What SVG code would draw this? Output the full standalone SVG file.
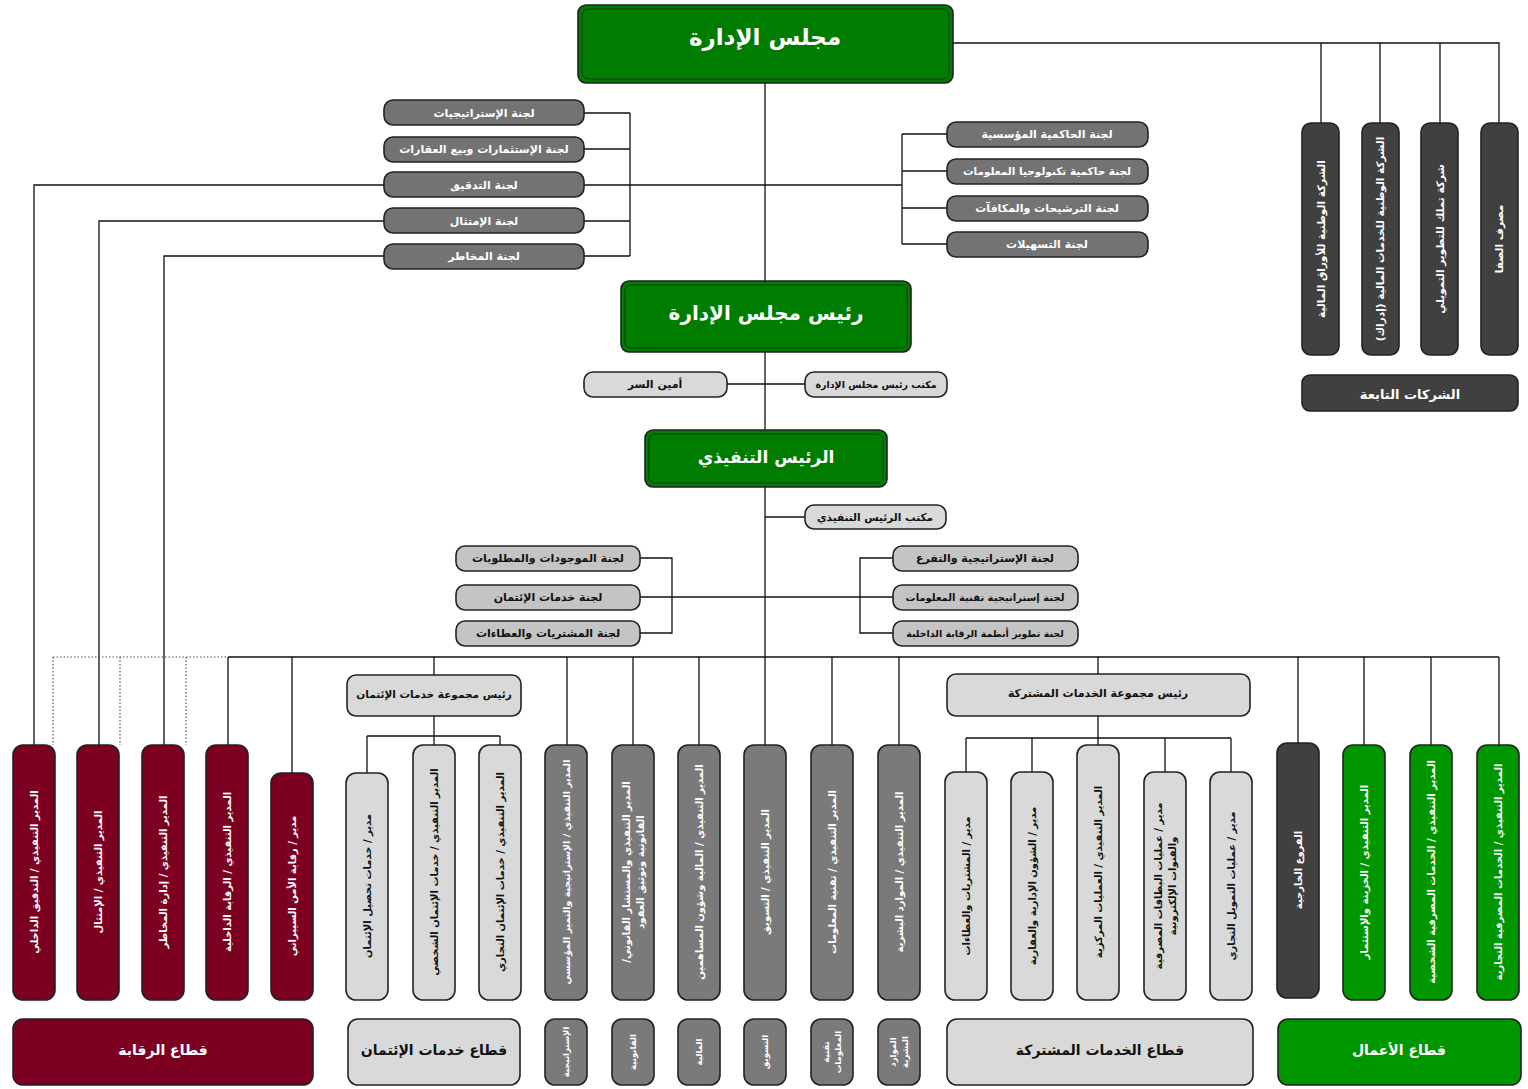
<svg xmlns="http://www.w3.org/2000/svg" width="1528" height="1089" viewBox="0 0 1528 1089">
<style>
text{font-family:"DejaVu Sans","Noto Sans",sans-serif;font-weight:bold;direction:rtl;text-anchor:middle;dominant-baseline:central}
.ln{stroke:#111;stroke-width:1.3;fill:none}
.dot{stroke:#555;stroke-width:1.2;fill:none;stroke-dasharray:1.5 2}
.bx{stroke:#222;stroke-width:1.6}
.g{fill:#007d00}
.gb{fill:#009600}
.r{fill:#7b0022}
.d{fill:#404040}
.m{fill:#7a7a7a}
.c{fill:#737373}
.l{fill:#d9d9d9}
.k{fill:#c4c4c4}
.w{fill:#fff}
.b{fill:#111}
.inner{fill:none;stroke:#0b3d0b;stroke-width:1}
</style>
<rect width="1528" height="1089" fill="#fff"/>
<g id="connectors">
<path class="ln" d="M765 83V657"/>
<path class="ln" d="M953 43H1499V123M1321 43V123M1380 43V123M1440 43V123"/>
<path class="ln" d="M584 113H630M584 149H630M584 185H630M584 221H630M584 256H630M630 113V256M630 185H765"/>
<path class="ln" d="M765 185H902M902 134V244M902 134H947M902 171H947M902 208H947M902 244H947"/>
<path class="ln" d="M384 185H34V745M384 221H99V745M384 256H164V745"/>
<path class="ln" d="M727 384H805M765 517H805"/>
<path class="ln" d="M640 597H893M640 558H672V633H640M893 558H860V633H893"/>
<path class="ln" d="M228 657H1499M228 657V745M292 657V773M434 657V675M567 657V745M633 657V745M699 657V745M765 657V745M832 657V745M899 657V745M1098 657V674M1298 657V743M1364 657V745M1431 657V745M1499 657V745"/>
<path class="dot" d="M53 657H228M53 657V745M120 657V745M186 657V745"/>
<path class="ln" d="M434 716V736M367 736H500M367 736V773M434 736V745M500 736V745"/>
<path class="ln" d="M1098 716V738M966 738H1231M966 738V772M1032 738V772M1098 738V745M1165 738V772M1231 738V772"/>
</g>
<g id="board">
<rect class="bx g" x="578" y="5" width="375" height="78" rx="8"/>
<rect class="inner" x="582" y="9" width="367" height="70" rx="6"/>
<text class="w" x="765" y="37" font-size="23">مجلس الإدارة</text>
</g>
<g id="c-strategy"><rect class="bx c" x="384" y="100" width="200" height="25" rx="9"/><text class="w" x="484" y="113" font-size="11">لجنة الإستراتيجيات</text></g>
<g id="c-invest"><rect class="bx c" x="384" y="137" width="200" height="25" rx="9"/><text class="w" x="484" y="149" font-size="11">لجنة الإستثمارات وبيع العقارات</text></g>
<g id="c-audit"><rect class="bx c" x="384" y="172" width="200" height="25" rx="9"/><text class="w" x="484" y="185" font-size="11">لجنة التدقيق</text></g>
<g id="c-compliance"><rect class="bx c" x="384" y="208" width="200" height="25" rx="9"/><text class="w" x="484" y="221" font-size="11">لجنة الإمتثال</text></g>
<g id="c-risk"><rect class="bx c" x="384" y="244" width="200" height="25" rx="9"/><text class="w" x="484" y="256" font-size="11">لجنة المخاطر</text></g>
<g id="c-governance"><rect class="bx c" x="947" y="122" width="201" height="25" rx="9"/><text class="w" x="1047" y="134" font-size="11">لجنة الحاكمية المؤسسية</text></g>
<g id="c-itgov"><rect class="bx c" x="947" y="159" width="201" height="25" rx="9"/><text class="w" x="1047" y="171" font-size="10.5">لجنة حاكمية تكنولوجيا المعلومات</text></g>
<g id="c-nomination"><rect class="bx c" x="947" y="196" width="201" height="25" rx="9"/><text class="w" x="1047" y="208" font-size="11">لجنة الترشيحات والمكافآت</text></g>
<g id="c-facilities"><rect class="bx c" x="947" y="232" width="201" height="25" rx="9"/><text class="w" x="1047" y="244" font-size="11">لجنة التسهيلات</text></g>
<g id="sub1"><rect class="bx d" x="1302" y="123" width="37" height="232" rx="9"/><text class="w" font-size="10.5" transform="translate(1321 239) rotate(-90)">الشركة الوطنية للأوراق المالية</text></g>
<g id="sub2"><rect class="bx d" x="1362" y="123" width="37" height="232" rx="9"/><text class="w" font-size="10.5" transform="translate(1380 239) rotate(-90)">الشركة الوطنية للخدمات المالية (إدراك)</text></g>
<g id="sub3"><rect class="bx d" x="1421" y="123" width="37" height="232" rx="9"/><text class="w" font-size="10.5" transform="translate(1440 239) rotate(-90)">شركة تملك للتطوير التمويلي</text></g>
<g id="sub4"><rect class="bx d" x="1481" y="123" width="37" height="232" rx="9"/><text class="w" font-size="10.5" transform="translate(1499 239) rotate(-90)">مصرف الصفا</text></g>
<g id="subsidiaries"><rect class="bx d" x="1302" y="375" width="216" height="36" rx="8"/><text class="w" x="1410" y="394" font-size="13">الشركات التابعة</text></g>
<g id="chairman">
<rect class="bx g" x="621" y="281" width="290" height="71" rx="8"/>
<rect class="inner" x="625" y="285" width="282" height="63" rx="6"/>
<text class="w" x="766" y="313" font-size="20">رئيس مجلس الإدارة</text>
</g>
<g id="secretary"><rect class="bx l" x="584" y="372" width="143" height="25" rx="9"/><text class="b" x="655" y="384" font-size="11">أمين السر</text></g>
<g id="chair-office"><rect class="bx l" x="805" y="372" width="142" height="25" rx="9"/><text class="b" x="876" y="384" font-size="9.5">مكتب رئيس مجلس الإدارة</text></g>
<g id="ceo">
<rect class="bx g" x="645" y="430" width="242" height="57" rx="8"/>
<rect class="inner" x="649" y="434" width="234" height="49" rx="6"/>
<text class="w" x="766" y="457" font-size="17">الرئيس التنفيذي</text>
</g>
<g id="ceo-office"><rect class="bx l" x="805" y="505" width="141" height="24" rx="9"/><text class="b" x="875" y="517" font-size="10.5">مكتب الرئيس التنفيذي</text></g>
<g id="alco"><rect class="bx k" x="456" y="546" width="184" height="25" rx="9"/><text class="b" x="548" y="558" font-size="11">لجنة الموجودات والمطلوبات</text></g>
<g id="credit-com"><rect class="bx k" x="456" y="585" width="184" height="25" rx="9"/><text class="b" x="548" y="597" font-size="11">لجنة خدمات الإئتمان</text></g>
<g id="procure-com"><rect class="bx k" x="456" y="621" width="184" height="25" rx="9"/><text class="b" x="548" y="633" font-size="11">لجنة المشتريات والعطاءات</text></g>
<g id="strat-com"><rect class="bx k" x="893" y="546" width="185" height="25" rx="9"/><text class="b" x="985" y="558" font-size="11">لجنة الإستراتيجية والتفرع</text></g>
<g id="itstrat-com"><rect class="bx k" x="893" y="585" width="185" height="25" rx="9"/><text class="b" x="985" y="597" font-size="10">لجنة إستراتيجية تقنية المعلومات</text></g>
<g id="icdev-com"><rect class="bx k" x="893" y="621" width="185" height="25" rx="9"/><text class="b" x="985" y="633" font-size="9.5">لجنة تطوير أنظمة الرقابة الداخلية</text></g>
<g id="credit-head"><rect class="bx l" x="347" y="675" width="174" height="41" rx="9"/><text class="b" x="434" y="694" font-size="10.5">رئيس مجموعة خدمات الإئتمان</text></g>
<g id="shared-head"><rect class="bx l" x="947" y="674" width="303" height="42" rx="9"/><text class="b" x="1098" y="693" font-size="11">رئيس مجموعة الخدمات المشتركة</text></g>
<g id="red1"><rect class="bx r" x="13" y="745" width="42" height="255" rx="10"/><text class="w" font-size="10" transform="translate(34 872) rotate(-90)">المدير التنفيذي / التدقيق الداخلي</text></g>
<g id="red2"><rect class="bx r" x="77" y="745" width="42" height="255" rx="10"/><text class="w" font-size="10" transform="translate(98 872) rotate(-90)">المدير التنفيذي / الإمتثال</text></g>
<g id="red3"><rect class="bx r" x="142" y="745" width="42" height="255" rx="10"/><text class="w" font-size="10" transform="translate(163 872) rotate(-90)">المدير التنفيذي / إدارة المخاطر</text></g>
<g id="red4"><rect class="bx r" x="206" y="745" width="42" height="255" rx="10"/><text class="w" font-size="10" transform="translate(227 872) rotate(-90)">المدير التنفيذي / الرقابة الداخلية</text></g>
<g id="red5"><rect class="bx r" x="271" y="773" width="42" height="227" rx="10"/><text class="w" font-size="10" transform="translate(292 886) rotate(-90)">مدير / رقابة الأمن السيبراني</text></g>
<g id="cr1"><rect class="bx l" x="346" y="773" width="42" height="227" rx="10"/><text class="b" font-size="10" transform="translate(367 886) rotate(-90)">مدير / خدمات تحصيل الإئتمان</text></g>
<g id="cr2"><rect class="bx l" x="413" y="745" width="42" height="255" rx="10"/><text class="b" font-size="10" transform="translate(434 872) rotate(-90)">المدير التنفيذي / خدمات الإئتمان الشخصي</text></g>
<g id="cr3"><rect class="bx l" x="479" y="745" width="42" height="255" rx="10"/><text class="b" font-size="10" transform="translate(500 872) rotate(-90)">المدير التنفيذي / خدمات الإئتمان التجاري</text></g>
<g id="gm1"><rect class="bx m" x="545" y="745" width="42" height="255" rx="10"/><text class="w" font-size="9.5" transform="translate(566 872) rotate(-90)">المدير التنفيذي / الإستراتيجية والتميز المؤسسي</text></g>
<g id="gm2"><rect class="bx m" x="612" y="745" width="42" height="255" rx="10"/><text class="w" font-size="10" transform="translate(633 872) rotate(-90)"><tspan x="0" y="-7">المدير التنفيذي والمستشار القانوني/</tspan><tspan x="0" y="7">القانونية وتوثيق العقود</tspan></text></g>
<g id="gm3"><rect class="bx m" x="678" y="745" width="42" height="255" rx="10"/><text class="w" font-size="10" transform="translate(699 872) rotate(-90)">المدير التنفيذي / المالية وشؤون المساهمين</text></g>
<g id="gm4"><rect class="bx m" x="744" y="745" width="42" height="255" rx="10"/><text class="w" font-size="10" transform="translate(765 872) rotate(-90)">المدير التنفيذي / التسويق</text></g>
<g id="gm5"><rect class="bx m" x="811" y="745" width="42" height="255" rx="10"/><text class="w" font-size="10" transform="translate(832 872) rotate(-90)">المدير التنفيذي / تقنية المعلومات</text></g>
<g id="gm6"><rect class="bx m" x="878" y="745" width="42" height="255" rx="10"/><text class="w" font-size="10" transform="translate(899 872) rotate(-90)">المدير التنفيذي / الموارد البشرية</text></g>
<g id="sh1"><rect class="bx l" x="945" y="772" width="42" height="228" rx="10"/><text class="b" font-size="10" transform="translate(966 886) rotate(-90)">مدير / المشتريات والعطاءات</text></g>
<g id="sh2"><rect class="bx l" x="1011" y="772" width="42" height="228" rx="10"/><text class="b" font-size="10" transform="translate(1032 886) rotate(-90)">مدير / الشؤون الإدارية والعقارية</text></g>
<g id="sh3"><rect class="bx l" x="1077" y="745" width="42" height="255" rx="10"/><text class="b" font-size="10" transform="translate(1098 872) rotate(-90)">المدير التنفيذي / العمليات المركزية</text></g>
<g id="sh4"><rect class="bx l" x="1144" y="772" width="42" height="228" rx="10"/><text class="b" font-size="10" transform="translate(1165 886) rotate(-90)"><tspan x="0" y="-7">مدير / عمليات البطاقات المصرفية</tspan><tspan x="0" y="7">والقنوات الإلكترونية</tspan></text></g>
<g id="sh5"><rect class="bx l" x="1210" y="772" width="42" height="228" rx="10"/><text class="b" font-size="10" transform="translate(1231 886) rotate(-90)">مدير / عمليات التمويل التجاري</text></g>
<g id="bus1"><rect class="bx d" x="1277" y="743" width="42" height="255" rx="10"/><text class="w" font-size="10" transform="translate(1298 870) rotate(-90)">الفروع الخارجية</text></g>
<g id="bus2"><rect class="bx gb" x="1343" y="745" width="42" height="255" rx="10"/><text class="w" font-size="10" transform="translate(1364 872) rotate(-90)">المدير التنفيذي / الخزينة والإستثمار</text></g>
<g id="bus3"><rect class="bx gb" x="1410" y="745" width="42" height="255" rx="10"/><text class="w" font-size="10" transform="translate(1431 872) rotate(-90)">المدير التنفيذي / الخدمات المصرفية الشخصية</text></g>
<g id="bus4"><rect class="bx gb" x="1477" y="745" width="42" height="255" rx="10"/><text class="w" font-size="10" transform="translate(1498 872) rotate(-90)">المدير التنفيذي / الخدمات المصرفية التجارية</text></g>
<g id="sec-control"><rect class="bx r" x="13" y="1019" width="300" height="66" rx="10"/><text class="w" x="163" y="1050" font-size="14">قطاع الرقابة</text></g>
<g id="sec-credit"><rect class="bx l" x="348" y="1019" width="172" height="66" rx="10"/><text class="b" x="434" y="1050" font-size="14">قطاع خدمات الإئتمان</text></g>
<g id="sec-s1"><rect class="bx m" x="545" y="1019" width="42" height="66" rx="10"/><text class="w" font-size="8.5" transform="translate(566 1052) rotate(-90)">الإستراتيجية</text></g>
<g id="sec-s2"><rect class="bx m" x="612" y="1019" width="42" height="66" rx="10"/><text class="w" font-size="8.5" transform="translate(633 1052) rotate(-90)">القانونية</text></g>
<g id="sec-s3"><rect class="bx m" x="678" y="1019" width="42" height="66" rx="10"/><text class="w" font-size="8.5" transform="translate(699 1052) rotate(-90)">المالية</text></g>
<g id="sec-s4"><rect class="bx m" x="744" y="1019" width="42" height="66" rx="10"/><text class="w" font-size="8.5" transform="translate(765 1052) rotate(-90)">التسويق</text></g>
<g id="sec-s5"><rect class="bx m" x="811" y="1019" width="42" height="66" rx="10"/><text class="w" font-size="8.5" transform="translate(832 1052) rotate(-90)"><tspan x="0" y="-6">تقنية</tspan><tspan x="0" y="6">المعلومات</tspan></text></g>
<g id="sec-s6"><rect class="bx m" x="878" y="1019" width="42" height="66" rx="10"/><text class="w" font-size="8.5" transform="translate(899 1052) rotate(-90)"><tspan x="0" y="-6">الموارد</tspan><tspan x="0" y="6">البشرية</tspan></text></g>
<g id="sec-shared"><rect class="bx l" x="947" y="1019" width="306" height="66" rx="10"/><text class="b" x="1100" y="1050" font-size="14">قطاع الخدمات المشتركة</text></g>
<g id="sec-business"><rect class="bx gb" x="1278" y="1019" width="243" height="66" rx="10"/><text class="w" x="1399" y="1050" font-size="14">قطاع الأعمال</text></g>
</svg>
